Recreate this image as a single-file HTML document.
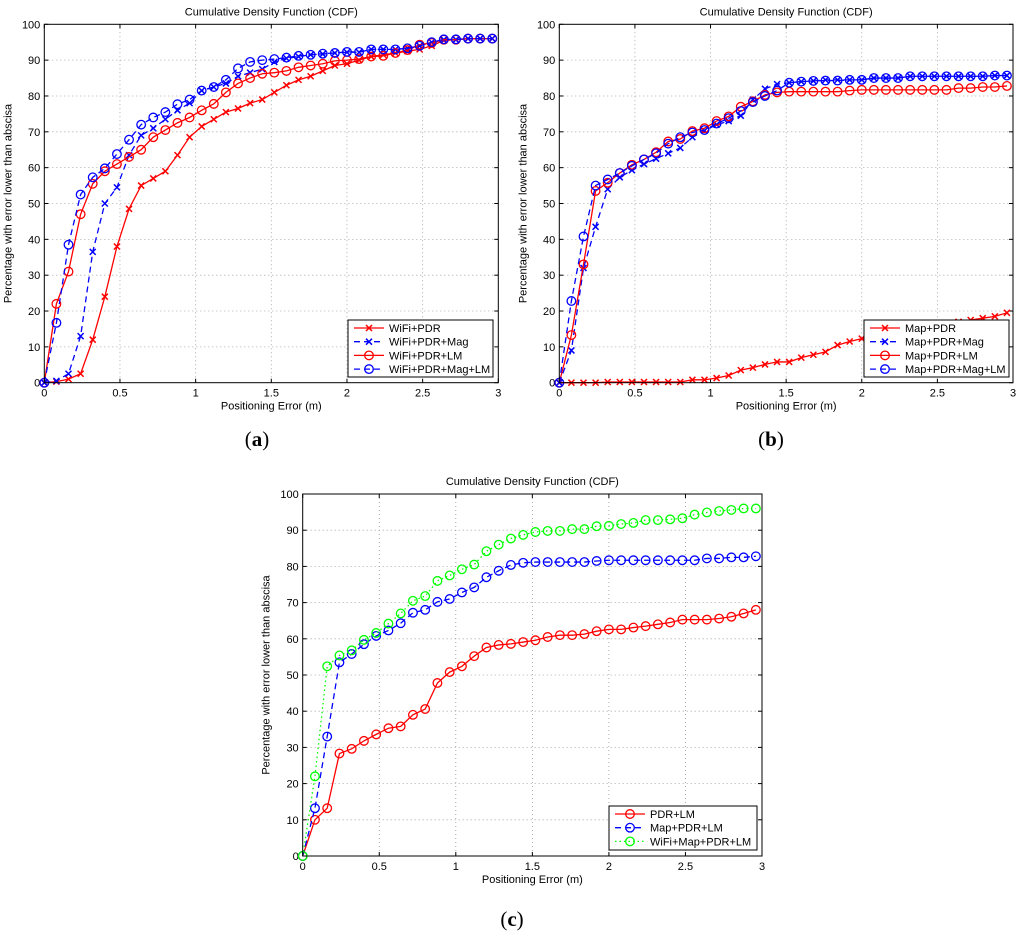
<!DOCTYPE html>
<html><head><meta charset="utf-8"><style>
body{margin:0;background:#fff;width:1024px;height:933px;overflow:hidden}
svg{font-family:"Liberation Sans",Arial,sans-serif}
</style></head><body>
<svg id="s" width="1024" height="933"></svg>
<script>
const xs = Array.from({length:38},(_,i)=>+(i*0.08).toFixed(2));
const xTicks=[0,0.5,1,1.5,2,2.5,3];
const xTickLabels=["0","0.5","1","1.5","2","2.5","3"];
const yTicks=[0,10,20,30,40,50,60,70,80,90,100];
const aLabels=["WiFi+PDR","WiFi+PDR+Mag","WiFi+PDR+LM","WiFi+PDR+Mag+LM"];
const aWifiPdr=[0,0.3,1,2.5,12,24,38,48.5,55,57,59,63.5,68.5,71.5,73.5,75.5,76.5,78,79,81,83,84.5,85.5,87,88.5,89,90,91,91.5,92,92.5,93,94,95.5,95.7,96,96,96];
const aWifiPdrMag=[0,0.5,2.5,13,36.5,50,54.5,63.5,69,71,73.5,76,78,81.5,82.5,83.5,85.5,86.5,87.5,89.5,90.5,91,91.5,91.7,92,92.2,92.2,93,93,93,93.3,94,95,95.7,95.7,96,96,96];
const aWifiPdrLm=[0,22,31,47,55.5,59,61,63,65,68.5,70.5,72.5,74,76,77.8,81,83.5,85,86.2,86.5,87,88,88.5,89,89.8,90,90.3,91,91.2,92,92.8,94.3,94.8,95.7,95.7,96,96,96];
const aWifiPdrMagLm=[0,16.7,38.5,52.5,57.3,59.8,63.8,67.8,72,74,75.5,77.7,79,81.5,82.5,84.5,87.7,89.5,90,90.3,90.7,91.2,91.5,91.8,92,92.3,92.3,93,93,93,93.3,94,95,95.8,95.8,96,96,96];
const bLabels=["Map+PDR","Map+PDR+Mag","Map+PDR+LM","Map+PDR+Mag+LM"];
const bMapPdr=[0,0,0,0,0.2,0.2,0.2,0.2,0.2,0.2,0.2,0.8,0.8,1.3,2,3.5,4.2,5.1,5.8,5.8,7,7.8,8.6,10.5,11.5,12.3,13,14,14.5,15,15.5,16,16.5,17,17.5,18,18.5,19.5];
const bMapPdrMag=[0,9,32,43.5,54,57.3,59.3,61,62.5,64,65.5,68.5,70.3,72,73,74.5,79,82,83.3,83.7,84,84.2,84.5,84.5,84.5,84.5,85,85,85,85.5,85.5,85.5,85.5,85.5,85.5,85.5,85.7,85.7];
const bMapPdrLm=[0,13.3,33,53.5,55.8,58.5,60.8,62.3,64.3,67.3,68,70.2,71,73,74.3,77,78.5,80.3,81,81.2,81.2,81.2,81.2,81.2,81.5,81.7,81.7,81.7,81.7,81.7,81.7,81.7,81.7,82.2,82.2,82.5,82.5,82.8];
const bMapPdrMagLm=[0,22.8,40.8,55,56.7,58.5,60.5,62.3,64,66.7,68.5,69.8,70.5,72.3,73.8,75.8,78.3,80,81.5,83.7,84,84.2,84.3,84.3,84.5,84.5,85,85,85,85.5,85.5,85.5,85.5,85.5,85.5,85.5,85.7,85.7];
const cLabels=["PDR+LM","Map+PDR+LM","WiFi+Map+PDR+LM"];
const cPdrLm=[0,10,13.2,28.3,29.6,31.8,33.6,35.3,35.8,39,40.6,47.8,50.8,52.4,55.2,57.6,58.3,58.6,59.1,59.6,60.5,61,61,61.3,62.1,62.6,62.6,63.1,63.5,64,64.5,65.3,65.3,65.3,65.6,66.1,67,68];
const cMapPdrLm=[0,13.2,33,53.5,55.8,58.5,60.8,62.3,64.3,67.2,68,70.2,71,72.8,74.2,77,78.8,80.4,81,81.2,81.2,81.2,81.2,81.2,81.5,81.7,81.7,81.7,81.7,81.7,81.7,81.7,81.7,82.2,82.2,82.5,82.5,82.8];
const cWifiMapPdrLm=[0,22,52.4,55.4,56.8,59.7,61.6,64.2,67,70.5,71.8,76,77.5,79.2,80.5,84.2,86,87.7,88.7,89.5,89.8,89.8,90.3,90.3,91.1,91.2,91.7,92,92.8,92.8,93,93.3,94.3,94.9,95.3,95.6,96,96];

const NS="http://www.w3.org/2000/svg";
const S=document.getElementById('s');
function mk(tag,attrs,parent,name,inter){const e=document.createElementNS(NS,tag);for(const k in attrs)e.setAttribute(k,attrs[k]);


(parent||S).appendChild(e);return e;}
const styles={
 rx:{c:"#f00",dash:"",m:"x"}, bx:{c:"#00f",dash:"6,4",m:"x"},
 ro:{c:"#f00",dash:"",m:"o"}, bo:{c:"#00f",dash:"6,4",m:"o"}, go:{c:"#0f0",dash:"1.5,3",m:"o"}};
function marker(g,x,y,st,name){
 if(st.m==="o") mk('circle',{cx:x,cy:y,r:4.3,fill:"none",stroke:st.c,"stroke-width":1.3},g,name);
 else mk('path',{d:`M${x-3},${y-3}L${x+3},${y+3}M${x-3},${y+3}L${x+3},${y-3}`,stroke:st.c,"stroke-width":1.5},g,name);
}
function panel(id,L,R,T,B,series,labels,stKeys,leg,tag,tagX,tagY){
 const g=mk('g',{},S,'panel-'+id);
 const X=v=>L+(R-L)*v/3, Y=v=>B-(B-T)*v/100;
 mk('rect',{x:L,y:T,width:R-L,height:B-T,fill:"#fff",stroke:"none"},g,'plot-area');
 xTicks.forEach((t,i)=>{const x=X(t);
  if(i>0&&i<xTicks.length-1) mk('line',{x1:x,y1:T,x2:x,y2:B,stroke:"#999","stroke-dasharray":"1,3","stroke-width":0.8},g,'x-grid-line');
  mk('line',{x1:x,y1:B,x2:x,y2:B-4,stroke:"#000"},g,'x-tick');mk('line',{x1:x,y1:T,x2:x,y2:T+4,stroke:"#000"},g,'x-tick');
  const tx=mk('text',{x:x,y:B+14,"font-size":11,"text-anchor":"middle"},g,'x-tick-label');tx.textContent=xTickLabels[i];});
 yTicks.forEach((t,i)=>{const y=Y(t);
  if(i>0&&i<yTicks.length-1) mk('line',{x1:L,y1:y,x2:R,y2:y,stroke:"#999","stroke-dasharray":"1,3","stroke-width":0.8},g,'y-grid-line');
  mk('line',{x1:L,y1:y,x2:L+4,y2:y,stroke:"#000"},g,'y-tick');mk('line',{x1:R,y1:y,x2:R-4,y2:y,stroke:"#000"},g,'y-tick');
  const tx=mk('text',{x:L-4,y:y+4,"font-size":11,"text-anchor":"end"},g,'y-tick-label');tx.textContent=String(t);});
 series.forEach((d,si)=>{const st=styles[stKeys[si]];const sg=mk('g',{},g,'series-'+labels[si].toLowerCase().replace(/\+/g,'-'));
  mk('polyline',{points:d.map((v,i)=>X(xs[i])+","+Y(v)).join(" "),fill:"none",stroke:st.c,"stroke-width":1.3,"stroke-dasharray":st.dash},sg,'series-line');
  d.forEach((v,i)=>marker(sg,X(xs[i]),Y(v),st,'data-point'));});
 mk('rect',{x:L,y:T,width:R-L,height:B-T,fill:"none",stroke:"#000","stroke-width":1},g,'plot-frame');
 const t=mk('text',{x:(L+R)/2,y:T-9,"font-size":11,"text-anchor":"middle"},g,'chart-title');t.textContent="Cumulative Density Function (CDF)";
 const xl=mk('text',{x:(L+R)/2,y:B+27,"font-size":11,"text-anchor":"middle"},g,'x-axis-title');xl.textContent="Positioning Error (m)";
 const yx=L-33,yy=(T+B)/2;
 const yl=mk('text',{x:yx,y:yy,"font-size":11,"text-anchor":"middle",transform:`rotate(-90 ${yx} ${yy})`},g,'y-axis-title');yl.textContent="Percentage with error lower than abscisa";
 const lg=mk('g',{},g,'legend');
 mk('rect',{x:leg[0],y:leg[1],width:leg[2],height:leg[3],fill:"#fff",stroke:"#000"},lg,'legend-box');
 labels.forEach((lab,i)=>{const st=styles[stKeys[i]];const y=leg[1]+8+i*13.7;const le=mk('g',{},lg,'legend-entry');
  mk('line',{x1:leg[0]+6,y1:y,x2:leg[0]+36,y2:y,stroke:st.c,"stroke-width":1.3,"stroke-dasharray":st.dash},le,'legend-line');
  marker(le,leg[0]+21,y,st,'legend-marker');
  const tx=mk('text',{x:leg[0]+41,y:y+4,"font-size":11},le,'legend-label');tx.textContent=lab;});
 const tg=mk('text',{x:tagX,y:tagY,"font-size":21,"text-anchor":"middle","font-family":"Liberation Serif,serif"},g,'panel-label');
 tg.innerHTML='(<tspan font-weight="bold">'+tag+'</tspan>)';
}
panel('a',44.3,498.3,24.3,382.7,[aWifiPdr,aWifiPdrMag,aWifiPdrLm,aWifiPdrMagLm],aLabels,["rx","bx","ro","bo"],[348,320,145,57],'a',257,446);
panel('b',559.3,1013,24.3,382.7,[bMapPdr,bMapPdrMag,bMapPdrLm,bMapPdrMagLm],bLabels,["rx","bx","ro","bo"],[864,320,145,57],'b',771,446);
panel('c',302.7,762,494,856,[cPdrLm,cMapPdrLm,cWifiMapPdrLm],cLabels,["ro","bo","go"],[609,806,148,44],'c',512,926);
</script>
</body></html>
